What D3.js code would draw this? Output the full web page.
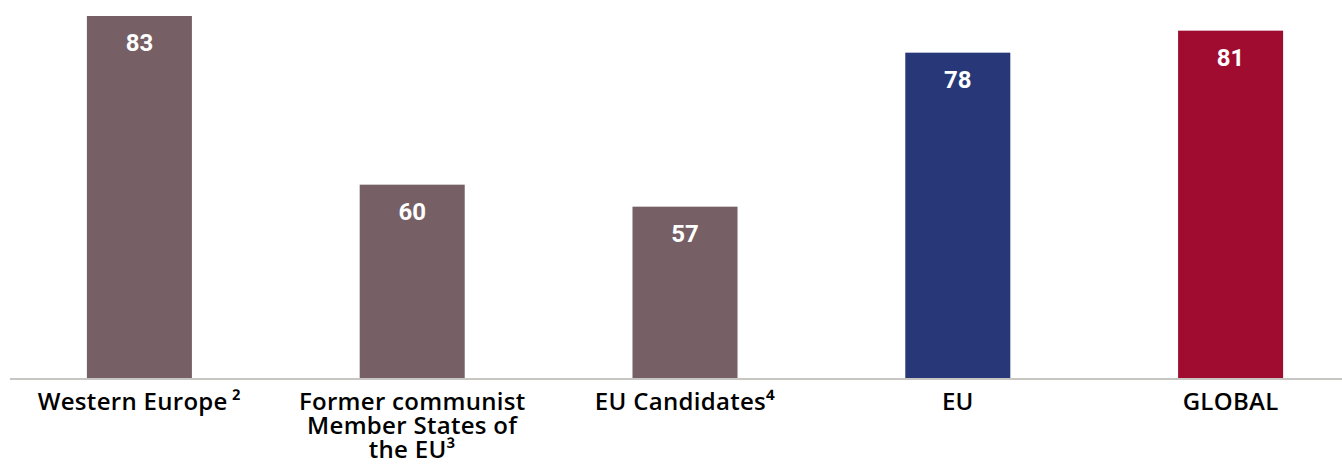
<!DOCTYPE html>
<html>
<head>
<meta charset="utf-8">
<script src="https://cdn.jsdelivr.net/npm/d3@7"></script>
<style>
  html, body { margin: 0; padding: 0; background: #ffffff; }
  svg { display: block; }
</style>
</head>
<body>
<svg id="chart" width="1342" height="473"></svg>
<script>
const categories = ["Western Europe", "Former communist Member States of the EU", "EU Candidates", "EU", "GLOBAL"];
const labelLines = [["Western Europe\u2009²"], ["Former communist", "Member States of", "the EU³"], ["EU Candidates⁴"], ["EU"], ["GLOBAL"]];
const values = [83, 60, 57, 78, 81];
const colors = ["#776065", "#776065", "#776065", "#283778", "#a00b30"];

const svg = d3.select("#chart");
const W = 1342, H = 473;
const baseY = 379;

const x = d3.scaleBand()
  .domain(categories)
  .range([3, 1367])
  .paddingInner(0.615)
  .paddingOuter(0.3075);

const y = d3.scaleLinear()
  .domain([33.5, 83])
  .range([baseY, 16]);

svg.selectAll("rect.bar")
  .data(values)
  .join("rect")
  .attr("class", "bar")
  .attr("x", (d, i) => x(categories[i]))
  .attr("width", x.bandwidth())
  .attr("y", d => y(d))
  .attr("height", d => baseY - y(d))
  .attr("fill", (d, i) => colors[i]);

// axis baseline
const xAxis = d3.axisBottom(x).tickSize(0).tickFormat("");
const ax = svg.append("g").attr("transform", `translate(0,${baseY})`).call(xAxis);
ax.select(".domain").attr("stroke", "#c8c6c2").attr("stroke-width", 2)
  .attr("d", `M10,0H${W}`);

// value labels
svg.selectAll("text.val")
  .data(values)
  .join("text")
  .attr("class", "val")
  .attr("x", (d, i) => x(categories[i]) + x.bandwidth() / 2)
  .attr("y", d => y(d) + 35)
  .attr("text-anchor", "middle")
  .attr("fill", "#ffffff")
  .attr("font-family", "Roboto, sans-serif")
  .attr("font-weight", "bold")
  .attr("font-size", "24px")
  .text(d => d);

// category labels
const lab = svg.selectAll("text.cat")
  .data(categories)
  .join("text")
  .attr("class", "cat")
  .attr("x", d => x(d) + x.bandwidth() / 2)
  .attr("y", 410)
  .attr("text-anchor", "middle")
  .attr("fill", "#000000")
  .attr("font-family", "'Open Sans', sans-serif")
  .attr("font-weight", "600")
  .attr("font-size", "24px")
  .attr("letter-spacing", "0.3px");

lab.each(function(d, i) {
  const t = d3.select(this);
  labelLines[i].forEach((ln, j) => {
    t.append("tspan")
      .attr("x", x(d) + x.bandwidth() / 2)
      .attr("dy", j === 0 ? 0 : 24)
      .text(ln);
  });
});
</script>
</body>
</html>
